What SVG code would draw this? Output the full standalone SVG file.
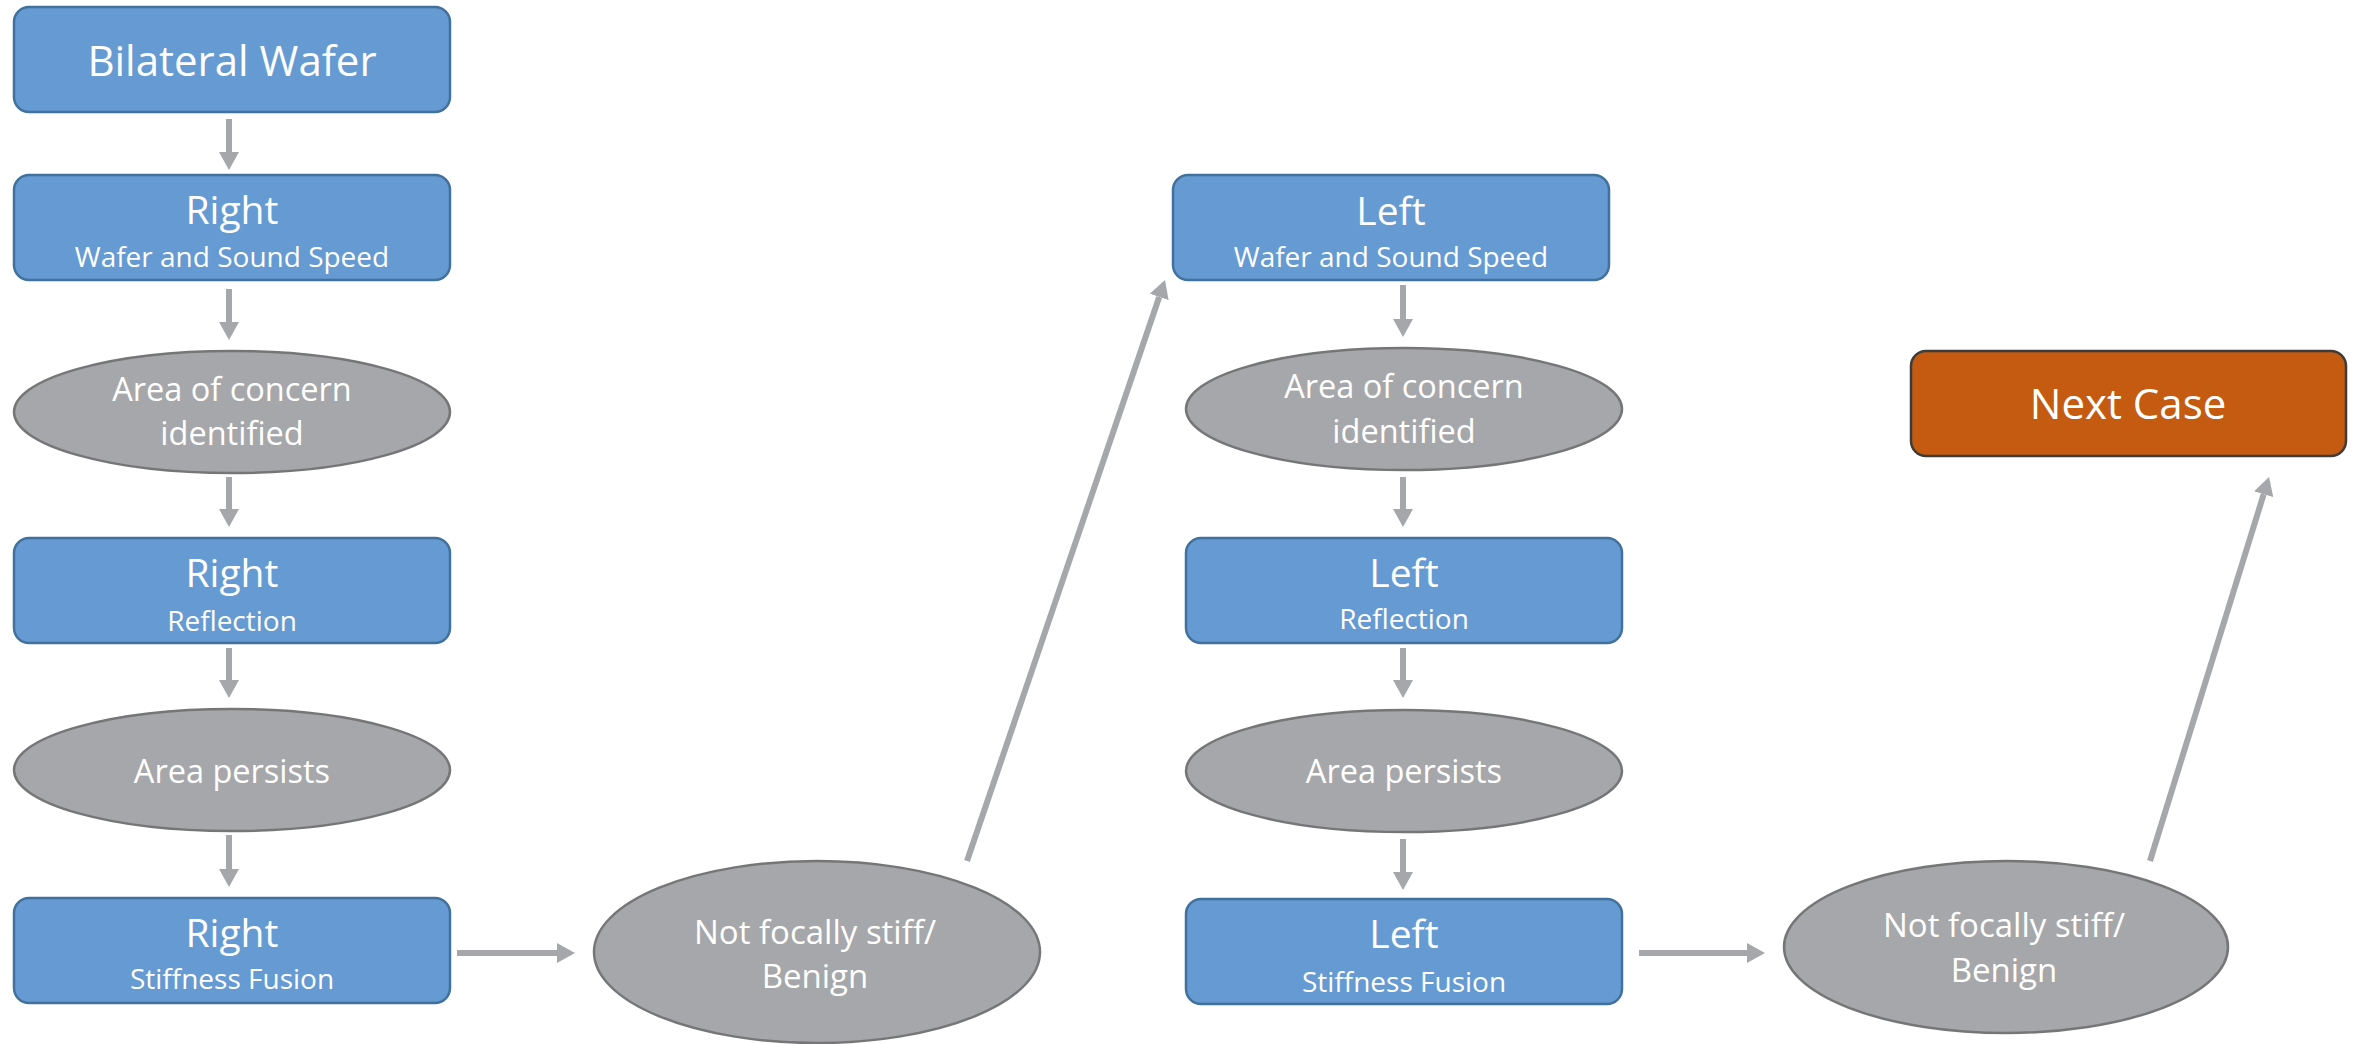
<svg xmlns="http://www.w3.org/2000/svg" width="2356" height="1044" viewBox="0 0 2356 1044">
  <style>
    .box { fill: #659AD2; stroke: #41719C; stroke-width: 2.5; }
    .oval { fill: #A6A7AA; stroke: #767676; stroke-width: 2.5; }
    .end { fill: #C55A11; stroke: #3C3C3C; stroke-width: 2.5; }
    text { font-family: "Open Sans", "Liberation Sans", sans-serif; fill: #FFFFFF; text-anchor: middle; }
    .big { font-size: 42px; }
    .head { font-size: 39px; }
    .sub { font-size: 28px; }
    .ov { font-size: 32.5px; }
    .nf { font-size: 33px; }
    .link { stroke: #A6A7AA; stroke-width: 6; fill: none; marker-end: url(#arrow); }
  </style>
  <defs>
    <marker id="arrow" markerUnits="userSpaceOnUse" markerWidth="18" markerHeight="20" refX="0" refY="10" orient="auto">
      <path d="M0,0 L18,10 L0,20 z" fill="#A6A7AA"/>
    </marker>
  </defs>
  <rect width="2356" height="1044" fill="#FFFFFF"/>

  <!-- connectors -->
  <g id="connectors">
    <line class="link" x1="229" y1="119" x2="229" y2="152"/>
    <line class="link" x1="229" y1="289" x2="229" y2="322"/>
    <line class="link" x1="229" y1="477" x2="229" y2="509"/>
    <line class="link" x1="229" y1="648" x2="229" y2="680"/>
    <line class="link" x1="229" y1="835" x2="229" y2="869"/>
    <line class="link" x1="457" y1="953" x2="557" y2="953"/>
    <line class="link" x1="967" y1="861" x2="1159.2" y2="297"/>
    <line class="link" x1="1403" y1="285" x2="1403" y2="319"/>
    <line class="link" x1="1403" y1="477" x2="1403" y2="509"/>
    <line class="link" x1="1403" y1="648" x2="1403" y2="680"/>
    <line class="link" x1="1403" y1="839" x2="1403" y2="872"/>
    <line class="link" x1="1639" y1="953" x2="1747" y2="953"/>
    <line class="link" x1="2150" y1="861" x2="2263.7" y2="494.2"/>
  </g>

  <!-- right side -->
  <g id="bilateral-wafer">
    <rect class="box" x="14" y="7" width="436" height="105" rx="15"/>
    <text class="big" x="232" y="76">Bilateral Wafer</text>
  </g>
  <g id="right-wafer">
    <rect class="box" x="14" y="175" width="436" height="105" rx="15"/>
    <text class="head" x="232" y="224">Right</text>
    <text class="sub" x="232" y="267">Wafer and Sound Speed</text>
  </g>
  <g id="right-concern">
    <ellipse class="oval" cx="232" cy="412" rx="218" ry="61"/>
    <text class="ov" x="232" y="401">Area of concern</text>
    <text class="ov" x="232" y="445">identified</text>
  </g>
  <g id="right-reflection">
    <rect class="box" x="14" y="538" width="436" height="105" rx="15"/>
    <text class="head" x="232" y="587">Right</text>
    <text class="sub" x="232" y="631">Reflection</text>
  </g>
  <g id="right-persists">
    <ellipse class="oval" cx="232" cy="770" rx="218" ry="61"/>
    <text class="ov" x="232" y="783">Area persists</text>
  </g>
  <g id="right-stiffness">
    <rect class="box" x="14" y="898" width="436" height="105" rx="15"/>
    <text class="head" x="232" y="947">Right</text>
    <text class="sub" x="232" y="989">Stiffness Fusion</text>
  </g>
  <g id="right-benign">
    <ellipse class="oval" cx="817" cy="952" rx="223" ry="91"/>
    <text class="nf" x="815" y="944">Not focally stiff/</text>
    <text class="nf" x="815" y="988">Benign</text>
  </g>

  <!-- left side -->
  <g id="left-wafer">
    <rect class="box" x="1173" y="175" width="436" height="105" rx="15"/>
    <text class="head" x="1391" y="225">Left</text>
    <text class="sub" x="1391" y="267">Wafer and Sound Speed</text>
  </g>
  <g id="left-concern">
    <ellipse class="oval" cx="1404" cy="409" rx="218" ry="61"/>
    <text class="ov" x="1404" y="398">Area of concern</text>
    <text class="ov" x="1404" y="443">identified</text>
  </g>
  <g id="left-reflection">
    <rect class="box" x="1186" y="538" width="436" height="105" rx="15"/>
    <text class="head" x="1404" y="587">Left</text>
    <text class="sub" x="1404" y="629">Reflection</text>
  </g>
  <g id="left-persists">
    <ellipse class="oval" cx="1404" cy="771" rx="218" ry="61"/>
    <text class="ov" x="1404" y="783">Area persists</text>
  </g>
  <g id="left-stiffness">
    <rect class="box" x="1186" y="899" width="436" height="105" rx="15"/>
    <text class="head" x="1404" y="948">Left</text>
    <text class="sub" x="1404" y="992">Stiffness Fusion</text>
  </g>
  <g id="left-benign">
    <ellipse class="oval" cx="2006" cy="947" rx="222" ry="86"/>
    <text class="nf" x="2004" y="937">Not focally stiff/</text>
    <text class="nf" x="2004" y="982">Benign</text>
  </g>

  <g id="next-case">
    <rect class="end" x="1911" y="351" width="435" height="105" rx="15"/>
    <text class="big" x="2128" y="419">Next Case</text>
  </g>
</svg>
